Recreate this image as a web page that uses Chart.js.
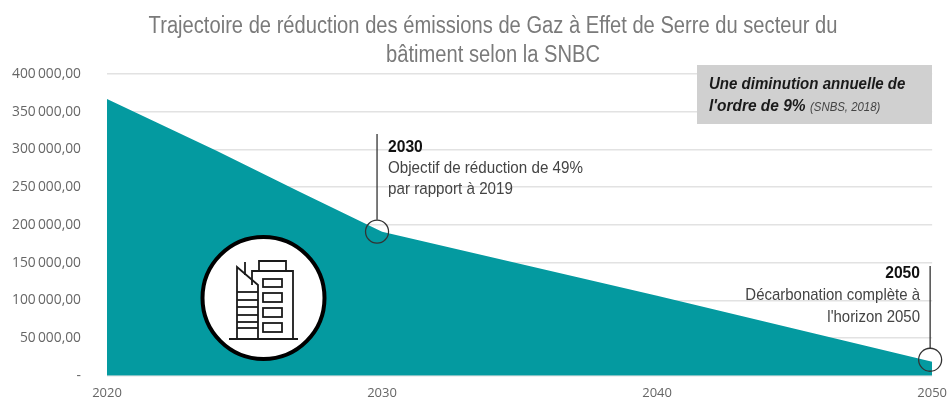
<!DOCTYPE html>
<html><head><meta charset="utf-8">
<style>html,body{margin:0;padding:0;background:#fff;overflow:hidden}#w{position:relative;width:947px;height:403px;overflow:hidden}canvas{display:block}</style>
<script src="https://cdn.jsdelivr.net/npm/chart.js@4"></script>
</head><body><div id="w"><canvas id="c" width="949" height="410"></canvas></div>
<script>
const years=[2020,2024,2027,2030,2040,2050];
const emissions=[367000,298000,244000,191000,106000,18500];
const titleLines=["Trajectoire de réduction des émissions de Gaz à Effet de Serre du secteur du","bâtiment selon la SNBC"];
const sans='"Liberation Sans",sans-serif';

function fmt(v){ if(v===0) return "-"; const s=String(v); return s.slice(0,-3)+"\u2009"+s.slice(-3)+",00"; }

const deco={id:'deco',
 afterDatasetsDraw(ch){
  const c=ch.ctx,x=ch.scales.x,y=ch.scales.y;
  // condensed text: the sandbox has no narrow face, so squeeze horizontally
  const txt=(s,px,py,font,col,sx,align)=>{c.save();c.translate(px,py);c.scale(sx,1);c.font=font+' '+sans;c.fillStyle=col;c.textAlign=align||'left';c.textBaseline='alphabetic';c.fillText(s,0,0);c.restore();};
  c.save();
  // title
  txt(titleLines[0],493,33,'23px','#7a7a7a',0.876,'center');
  txt(titleLines[1],493,62,'23px','#7a7a7a',0.876,'center');
  // grey note box
  c.fillStyle='#d0d0d0'; c.fillRect(697,65,235,59);
  txt('Une diminution annuelle de',709,89,'italic bold 17px','#1a1a1a',0.885);
  txt("l'ordre de 9%",709,111,'italic bold 17px','#1a1a1a',0.91);
  txt('(SNBS, 2018)',810,111,'italic 12px','#444',0.95);
  // callouts
  c.strokeStyle='#333';c.lineWidth=1.3;
  const x30=x.getPixelForValue(2030)-5,y30=y.getPixelForValue(191000);
  c.beginPath();c.moveTo(x30,134);c.lineTo(x30,y30-12);c.stroke();
  c.beginPath();c.arc(x30,y30,11.5,0,Math.PI*2);c.stroke();
  const x50=x.getPixelForValue(2050)-2,y50=y.getPixelForValue(18500)-2;
  c.beginPath();c.moveTo(x50,266);c.lineTo(x50,y50-11.5);c.stroke();
  c.beginPath();c.arc(x50,y50,11.5,0,Math.PI*2);c.stroke();
  // callout text
  txt('2030',388,152,'bold 17px','#111',0.92);
  txt('Objectif de réduction de 49%',388,173,'17px','#444',0.893);
  txt('par rapport à 2019',388,194,'17px','#444',0.893);
  txt('2050',920,278,'bold 17px','#111',0.92,'right');
  txt('Décarbonation complète à',920,300,'17px','#444',0.88,'right');
  txt("l'horizon 2050",920,322,'17px','#444',0.88,'right');
  // building icon
  c.fillStyle='#fff';c.strokeStyle='#000';c.lineWidth=4;
  c.beginPath();c.arc(263.5,298,61,0,Math.PI*2);c.fill();c.stroke();
  c.strokeStyle='#1a1a1a';c.lineWidth=1.8;
  const seg=(...p)=>{c.beginPath();c.moveTo(p[0],p[1]);for(let i=2;i<p.length;i+=2)c.lineTo(p[i],p[i+1]);c.stroke();};
  seg(229,339,298,339);
  seg(252,285,252,271,293,271,293,339);
  seg(259,271,259,261,286,261,286,271);
  [[279,287],[293,302],[308,317],[323,332]].forEach(r=>c.strokeRect(263,r[0],19,r[1]-r[0]));
  seg(237,339,237,267,258,285,258,339);
  [292,300,307,315,322,328].forEach(v=>seg(237,v,258,v));
  seg(245,262,245,275);
  c.restore();
 }};

new Chart(document.getElementById('c'),{
 type:'line',
 data:{datasets:[{data:years.map((v,i)=>({x:v,y:emissions[i]})),fill:'origin',backgroundColor:'#049aa0',borderWidth:0,pointRadius:0,tension:0}]},
 options:{responsive:false,animation:false,
  layout:{padding:{top:74,right:12,bottom:0,left:0}},
  plugins:{legend:{display:false},tooltip:{enabled:false},title:{display:false}},
  scales:{
   x:{type:'linear',min:2020,max:2050,grid:{display:false},border:{display:false},afterFit(s){s.height=27;},
      ticks:{stepSize:10,maxRotation:0,color:'#666',padding:2,font:{family:'"Open Sans"',size:13},callback:v=>String(v)}},
   y:{min:0,max:400000,afterFit(s){s.width=107;},grid:{color:'#e2e2e2',lineWidth:1.5,drawTicks:false},border:{display:false},
      ticks:{stepSize:50000,color:'#666',padding:26,font:{family:'"Open Sans"',size:13.8},callback:fmt}}
  }},
 plugins:[deco]
});
</script></body></html>
